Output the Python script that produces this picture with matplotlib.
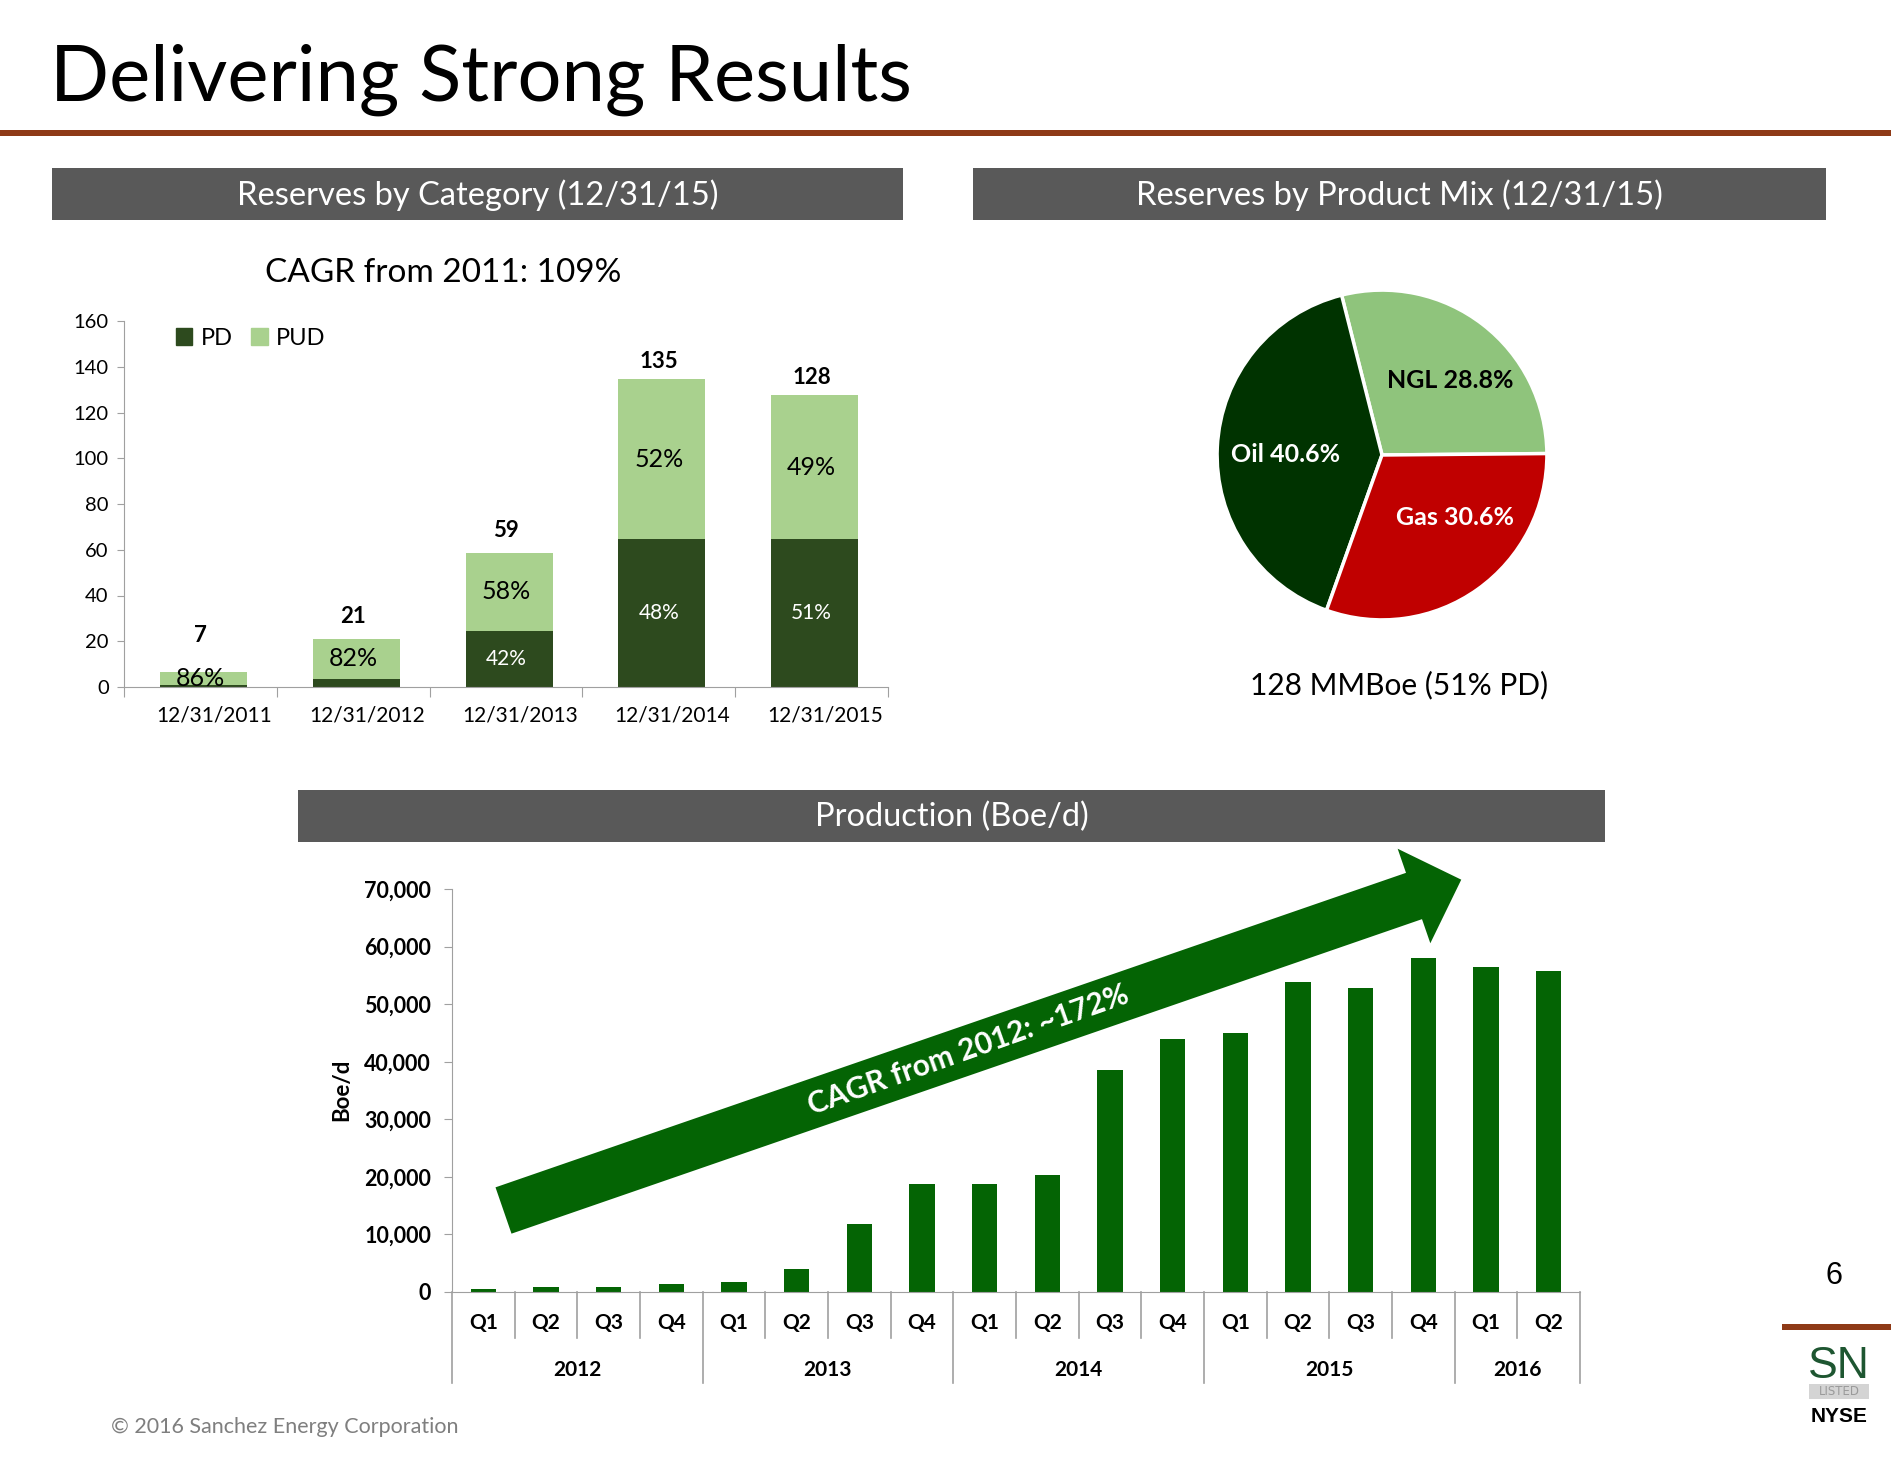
import numpy as np
import matplotlib.pyplot as plt
from matplotlib.patches import Polygon, Rectangle, Patch

plt.rcParams['font.family'] = ['Lato', 'DejaVu Sans']

# reserves by category (MMBoe)
res_dates = ['12/31/2011', '12/31/2012', '12/31/2013', '12/31/2014', '12/31/2015']
res_pd = [1.0, 3.7, 24.5, 64.5, 64.6]
res_pud = [5.7, 17.2, 34.1, 70.1, 63.0]
res_totals = ['7', '21', '59', '135', '128']
res_pd_pct = ['', '', '42%', '48%', '51%']
res_pud_pct = ['86%', '82%', '58%', '52%', '49%']

# reserves by product mix (%)
mix_names = ['NGL', 'Oil', 'Gas']
mix_share = [28.8, 40.6, 30.6]

# production (Boe/d) by quarter
prod_quarters = ['Q1', 'Q2', 'Q3', 'Q4'] * 4 + ['Q1', 'Q2']
prod_years = ['2012', '2013', '2014', '2015', '2016']
prod_year_len = [4, 4, 4, 4, 2]
prod_boed = [600, 900, 850, 1400, 1800, 4000, 11800, 18800, 18800, 20400,
             38600, 43900, 45000, 53800, 52800, 58100, 56500, 55800]

W, H = 1891, 1461
PD_C = '#2D4A1E'
PUD_C = '#A9D18E'
PROD_C = '#046404'
GRID_C = '#A0A0A0'
RUST = '#8E3A17'


def fx(x):
    return x / W


def fy(y):
    return 1 - y / H


fig = plt.figure(figsize=(W / 100, H / 100), dpi=100)

# title + rule
fig.text(fx(50), fy(101), 'Delivering Strong Results', fontsize=56,
         fontweight='normal', va='baseline')
fig.add_artist(Rectangle((0, fy(136)), 1, 6 / H, transform=fig.transFigure,
                         color=RUST, lw=0))


def header(x0, x1, y0, y1, text):
    fig.add_artist(Rectangle((fx(x0), fy(y1)), (x1 - x0) / W, (y1 - y0) / H,
                             transform=fig.transFigure, color='#595959', lw=0))
    fig.text(fx((x0 + x1) / 2), fy((y0 + y1) / 2 + 1), text, color='white',
             fontsize=23.5, ha='center', va='center')


header(52, 903, 168, 220, 'Reserves by Category (12/31/15)')
header(973, 1826, 168, 220, 'Reserves by Product Mix (12/31/15)')
header(298, 1605, 790, 842, 'Production (Boe/d)')

# ---- reserves by category
ax1 = fig.add_axes([fx(124), fy(687), (888 - 124) / W, (687 - 321) / H])
x = np.arange(len(res_dates))
tot = np.array(res_pd) + np.array(res_pud)
ax1.bar(x + 0.02, res_pd, 0.57, color=PD_C)
ax1.bar(x + 0.02, res_pud, 0.57, bottom=res_pd, color=PUD_C)
tot_off = [16, 10, 10, 7.5, 7.5]
for i in range(len(x)):
    ax1.text(i, tot[i] + tot_off[i], res_totals[i], ha='center', va='center',
             fontsize=16, fontweight='bold')
    ax1.text(i, res_pd[i] + res_pud[i] / 2, res_pud_pct[i], ha='center',
             va='center', fontsize=18)
    if res_pd_pct[i]:
        ax1.text(i, res_pd[i] / 2, res_pd_pct[i], ha='center', va='center',
                 fontsize=15, color='white')
ax1.set_xlim(-0.5, len(x) - 0.5)
ax1.set_ylim(0, 160)
ax1.set_yticks(range(0, 161, 20))
ax1.set_xticks(np.arange(-0.5, len(x)), [''] * (len(x) + 1))
ax1.tick_params(axis='x', which='major', length=7, color=GRID_C)
ax1.tick_params(axis='y', length=5, color=GRID_C, labelsize=14.5, pad=6)
for i, d in enumerate(res_dates):
    ax1.text(i + 0.09, -0.078, d, transform=ax1.get_xaxis_transform(),
             ha='center', va='center', fontsize=15)
for s in ['top', 'right']:
    ax1.spines[s].set_visible(False)
for s in ['left', 'bottom']:
    ax1.spines[s].set_color(GRID_C)
ax1.legend(handles=[Patch(color=PD_C), Patch(color=PUD_C)], labels=['PD', 'PUD'],
           ncol=2, frameon=False, fontsize=17, handlelength=0.7,
           handleheight=0.7, handletextpad=0.35, columnspacing=0.8,
           loc='upper left', bbox_to_anchor=(0.04, 1.04))
fig.text(fx(443), fy(273), 'CAGR from 2011: 109%', fontsize=24,
         ha='center', va='center')

# ---- product mix pie
ax3 = fig.add_axes([fx(1212), fy(625), 340 / W, 340 / H])
ax3.pie(mix_share, colors=['#8FC47C', '#003300', '#C00000'], startangle=0.5,
        counterclock=True, radius=0.97,
        wedgeprops=dict(edgecolor='white', linewidth=2.5))
ax3.set_xlim(-1, 1)
ax3.set_ylim(-1, 1)
ax3.axis('off')
lab_pos = [(0.40, 0.44), (-0.57, 0.0), (0.43, -0.37)]
lab_col = ['black', 'white', 'white']
for name, share, (px, py), c in zip(mix_names, mix_share, lab_pos, lab_col):
    ax3.text(px, py, f'{name} {share}%', ha='center', va='center',
             fontsize=18, fontweight='bold', color=c)
fig.text(fx(1399), fy(685), '128 MMBoe (51% PD)', fontsize=21.5,
         ha='center', va='center')

# ---- production
ax2 = fig.add_axes([fx(452), fy(1292), (1580 - 452) / W, (1292 - 889) / H])
xp = np.arange(len(prod_boed))
ax2.bar(xp, prod_boed, 0.4, color=PROD_C)
ax2.set_xlim(-0.5, len(xp) - 0.5)
ax2.set_ylim(0, 70000)
ax2.set_yticks(range(0, 70001, 10000))
ax2.set_yticklabels([f'{v:,}' for v in range(0, 70001, 10000)],
                    fontweight='bold')
ax2.tick_params(axis='y', length=6, color=GRID_C, labelsize=15.5, pad=9)
ax2.set_xticks([])
for s in ['top', 'right']:
    ax2.spines[s].set_visible(False)
for s in ['left', 'bottom']:
    ax2.spines[s].set_color(GRID_C)
tr = ax2.get_xaxis_transform()
year_edges = np.concatenate([[0], np.cumsum(prod_year_len)]) - 0.5
for b in np.arange(-0.5, len(xp)):
    depth = 0.226 if b in year_edges else 0.114
    ax2.plot([b, b], [0, -depth], transform=tr, clip_on=False,
             color=GRID_C, lw=1.2)
for i, q in enumerate(prod_quarters):
    ax2.text(i, -0.077, q, transform=tr, ha='center', va='center',
             fontsize=15, fontweight='bold')
for yr, a, b in zip(prod_years, year_edges[:-1], year_edges[1:]):
    ax2.text((a + b) / 2, -0.193, yr, transform=tr, ha='center',
             va='center', fontsize=15, fontweight='bold')
fig.text(fx(342), fy(1090), 'Boe/d', rotation=90, fontsize=16,
         fontweight='bold', ha='center', va='center')

# growth arrow
ang = np.deg2rad(19.06)
u = np.array([np.cos(ang), -np.sin(ang)])
n = np.array([np.sin(ang), np.cos(ang)])
tail = np.array([503.5, 1210.5])
base = np.array([1414.0, 896.0])
tip = base + u * 50
sw, hw = 49, 100
pts = [tail - n * sw / 2, base - n * sw / 2, base - n * hw / 2, tip,
       base + n * hw / 2, base + n * sw / 2, tail + n * sw / 2]
fig.add_artist(Polygon([(fx(p[0]), fy(p[1])) for p in pts], closed=True,
                       transform=fig.transFigure, color=PROD_C, lw=0))
mid = tail + u * 492
fig.text(fx(mid[0]), fy(mid[1]), 'CAGR from 2012: ~172%', color='white',
         fontsize=21.5, fontweight='bold', rotation=19.5, rotation_mode='anchor',
         ha='center', va='center')

# footer bits
fig.text(fx(111), fy(1427), '\u00a9 2016 Sanchez Energy Corporation',
         color='#7F7F7F', fontsize=15.5, va='center')
fig.text(fx(1834), fy(1276), '6', fontsize=22, family='Liberation Sans',
         ha='center', va='center')
fig.add_artist(Rectangle((fx(1782), fy(1330)), (W - 1782) / W, 6 / H,
                         transform=fig.transFigure, color=RUST, lw=0))
fig.text(fx(1839), fy(1378), 'SN', fontsize=32, color='#1E5631',
         family='Liberation Sans', ha='center', va='baseline')
fig.add_artist(Rectangle((fx(1809), fy(1399)), 60 / W, 15 / H,
                         transform=fig.transFigure, color='#D4D4D4', lw=0))
fig.text(fx(1839), fy(1391.5), 'LISTED', fontsize=8.5, color='#9A9A9A',
         family='Liberation Sans Narrow', ha='center', va='center')
fig.text(fx(1839), fy(1416), 'NYSE', fontsize=15, fontweight='bold',
         family=['Liberation Sans Narrow', 'Liberation Sans'],
         ha='center', va='center')

fig.savefig('out.png', dpi=100)
